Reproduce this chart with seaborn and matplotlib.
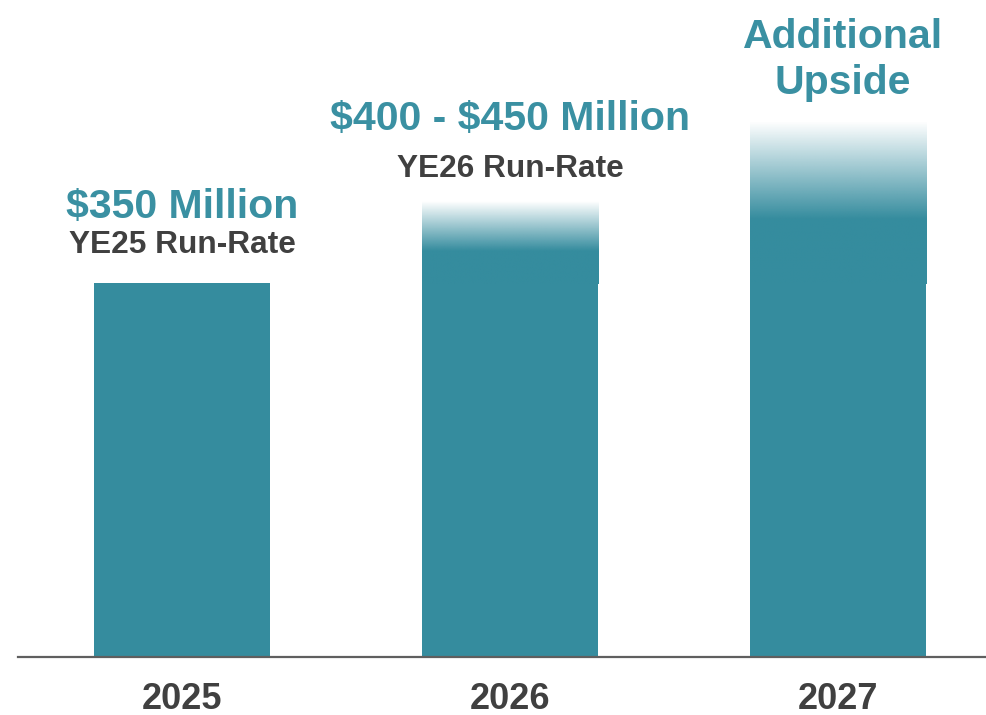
import numpy as np
import pandas as pd
import matplotlib
matplotlib.use("Agg")
import matplotlib.pyplot as plt
import seaborn as sns

# Run-rate bars ($ millions)
years = ["2025", "2026", "2027"]
base_values = [350, 350, 350]          # committed run-rate, drawn solid
upside_top = [None, 427, 502]          # top of the faded upside band
upside_solid_to = [None, 381, 411]     # level where the fade begins
headline = [r"\$350 Million", r"\$400 - \$450 Million", "Additional\nUpside"]
subline = ["YE25 Run-Rate", "YE26 Run-Rate", ""]

TEAL = "#358C9E"
TEAL_TEXT = "#3A90A2"
DARK = "#404040"

sns.set_theme(style="white")
plt.rcParams["font.family"] = ["Liberation Sans", "DejaVu Sans"]

fig = plt.figure(figsize=(9.87, 7.15), dpi=100)
# axes spans from the baseline (y=657px) to the top edge of the figure
ax = fig.add_axes([18 / 987, 1 - 657 / 715, 1 - 18 / 987, 657 / 715])

df = pd.DataFrame({"year": years, "value": base_values})
sns.barplot(data=df, x="year", y="value", color=TEAL, saturation=1,
            width=0.537, linewidth=0, ax=ax, zorder=2)

ax.set_xlim(-0.5, 2.454)
ax.set_ylim(0, 615)

teal_rgb = matplotlib.colors.to_rgb(TEAL)
for patch, top, solid in zip(ax.patches, upside_top, upside_solid_to):
    if top is None:
        continue
    x0 = patch.get_x()
    w = patch.get_width()
    bottom = patch.get_height()
    # gradient image: opaque teal below `solid`, fading to transparent at `top`
    n = 256
    ys = np.linspace(bottom, top, n)
    alpha = np.clip((top - ys) / (top - solid), 0, 1)
    img = np.zeros((n, 1, 4))
    img[:, 0, :3] = teal_rgb
    img[:, 0, 3] = alpha
    ax.imshow(img, extent=[x0, x0 + w, bottom - 0.5, top], origin="lower",
              aspect="auto", interpolation="bilinear", zorder=2)

ax.set_xlim(-0.5, 2.454)
ax.set_ylim(0, 615)

# headline and sub-labels above each bar
head_y = [218, 130, 48]
sub_y = [253, 177, None]
for i, (h, s) in enumerate(zip(headline, subline)):
    if "\n" in h:
        lines = h.split("\n")
        fig.text(843 / 987, 1 - 48 / 715, lines[0], ha="center", va="baseline",
                 fontsize=29.5, fontweight="bold", color=TEAL_TEXT)
        fig.text(843 / 987, 1 - 94 / 715, lines[1], ha="center", va="baseline",
                 fontsize=29.5, fontweight="bold", color=TEAL_TEXT)
    else:
        cx = ax.transData.transform((i, 0))[0] / fig.bbox.width
        fig.text(cx, 1 - head_y[i] / 715, h, ha="center", va="baseline",
                 fontsize=29.5, fontweight="bold", color=TEAL_TEXT)
        fig.text(cx, 1 - sub_y[i] / 715, s, ha="center", va="baseline",
                 fontsize=22.8, fontweight="bold", color=DARK)

# x tick labels
ax.set_xticks(range(len(years)))
ax.set_xticklabels(years, fontsize=26, fontweight="bold", color=DARK)
ax.tick_params(axis="x", length=0, pad=18)
ax.set_xlabel("")
ax.set_ylabel("")
ax.set_yticks([])

for side in ["top", "right", "left"]:
    ax.spines[side].set_visible(False)
ax.spines["bottom"].set_color("#5f5f5f")
ax.spines["bottom"].set_linewidth(1.6)
ax.spines["bottom"].set_zorder(3)

fig.savefig("out.png", dpi=100, facecolor="white")
